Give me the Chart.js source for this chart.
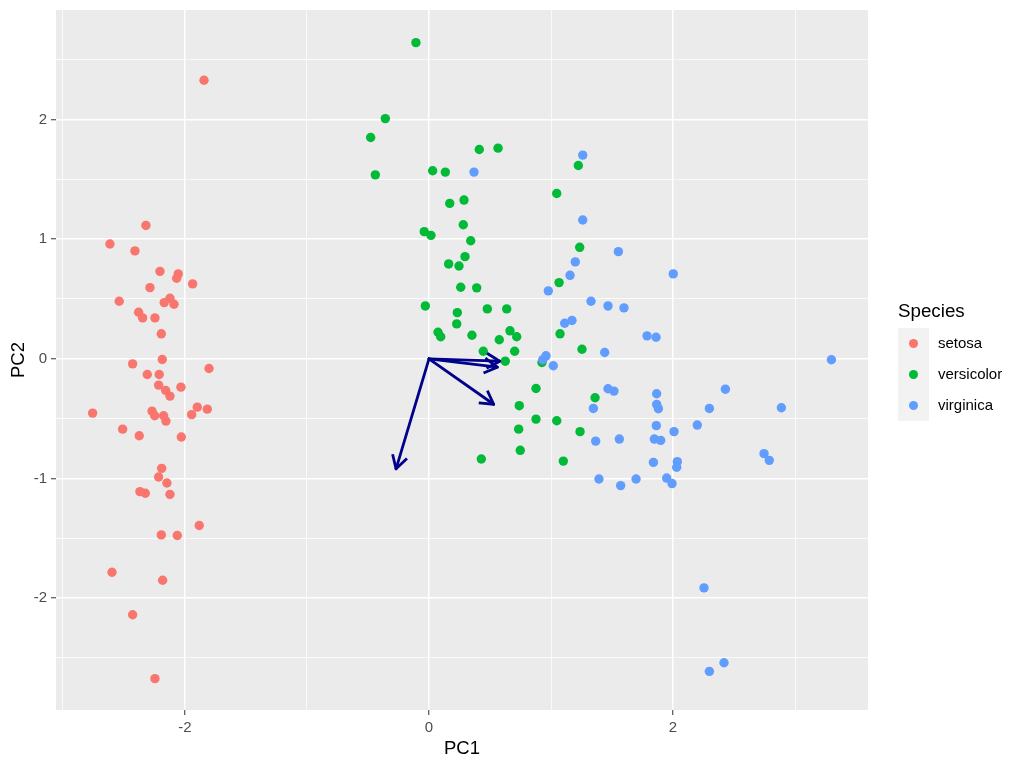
<!DOCTYPE html>
<html>
<head>
<meta charset="utf-8">
<title>PCA biplot</title>
<script src="https://cdn.jsdelivr.net/npm/chart.js@4/dist/chart.umd.min.js"></script>
<style>
  html, body { margin: 0; padding: 0; background: #ffffff; }
  canvas { display: block; }
</style>
</head>
<body>
<canvas id="biplot" width="1024" height="768"></canvas>
<script>
const species = ["setosa", "versicolor", "virginica"];
const speciesColors = ["#F8766D", "#00BA38", "#619CFF"];

// scores
const setosaPC1 = [-1.844, -2.320, -2.615, -2.410, -2.205, -2.055, -2.068, -1.937, -2.287, -2.539, -2.170, -2.123, -2.090, -2.380, -2.347, -2.246, -2.194, -2.186, -2.429, -2.309, -2.211, -1.803, -2.216, -2.158, -2.123, -2.033, -2.757, -2.270, -2.248, -2.175, -2.156, -1.945, -1.899, -1.817, -2.511, -2.375, -2.030, -2.191, -2.216, -2.148, -2.369, -2.325, -2.123, -1.883, -2.194, -2.063, -2.598, -2.183, -2.429, -2.246];
const setosaPC2 = [2.329, 1.115, 0.960, 0.902, 0.731, 0.710, 0.673, 0.626, 0.595, 0.481, 0.470, 0.506, 0.456, 0.389, 0.342, 0.342, 0.209, -0.006, -0.042, -0.131, -0.131, -0.081, -0.220, -0.265, -0.312, -0.237, -0.454, -0.437, -0.476, -0.476, -0.521, -0.467, -0.404, -0.421, -0.588, -0.643, -0.654, -0.916, -0.988, -1.038, -1.110, -1.124, -1.133, -1.394, -1.472, -1.477, -1.784, -1.851, -2.140, -2.674];

const versicolorPC1 = [-0.107, -0.358, -0.478, 0.412, 0.566, -0.440, 0.030, 0.134, 1.224, 1.047, 0.170, 0.287, 0.281, -0.039, 0.016, 0.342, 1.235, 0.295, 0.161, 0.246, 1.066, 0.260, 0.391, -0.030, 0.232, 0.478, 0.637, 0.227, 0.074, 0.096, 0.352, 0.576, 0.664, 0.719, 1.074, 0.445, 0.702, 1.254, 0.625, 0.926, 0.877, 1.361, 0.740, 0.877, 1.047, 0.735, 1.238, 0.748, 0.429, 1.101];
const versicolorPC2 = [2.643, 2.008, 1.850, 1.750, 1.761, 1.538, 1.572, 1.561, 1.616, 1.382, 1.299, 1.327, 1.121, 1.063, 1.032, 0.987, 0.932, 0.854, 0.793, 0.776, 0.637, 0.598, 0.593, 0.442, 0.386, 0.417, 0.417, 0.292, 0.222, 0.184, 0.197, 0.159, 0.234, 0.184, 0.209, 0.063, 0.063, 0.080, -0.020, -0.031, -0.248, -0.326, -0.392, -0.504, -0.518, -0.588, -0.609, -0.765, -0.838, -0.855];

const virginicaPC1 = [0.369, 1.260, 1.260, 1.552, 1.199, 1.156, 0.978, 1.328, 1.467, 1.112, 1.172, 1.440, 0.959, 0.932, 1.019, 1.467, 1.516, 1.347, 1.366, 1.560, 2.002, 1.598, 1.787, 1.861, 3.298, 1.866, 2.429, 1.866, 1.880, 2.298, 2.888, 2.199, 1.863, 2.008, 1.847, 1.899, 2.746, 2.789, 1.839, 2.035, 2.030, 1.393, 1.697, 1.571, 1.948, 1.992, 2.254, 2.418, 2.298];
const virginicaPC2 = [1.561, 1.703, 1.160, 0.896, 0.810, 0.698, 0.568, 0.481, 0.442, 0.297, 0.320, 0.053, 0.025, -0.008, -0.058, -0.250, -0.270, -0.415, -0.688, -0.671, 0.710, 0.426, 0.192, 0.180, -0.008, -0.292, -0.254, -0.381, -0.417, -0.415, -0.409, -0.554, -0.559, -0.609, -0.671, -0.682, -0.793, -0.849, -0.866, -0.860, -0.907, -1.005, -1.005, -1.060, -0.997, -1.043, -1.915, -2.541, -2.613];

// variable loadings (arrows from the origin)
const loadingNames = ["Sepal.Length", "Sepal.Width", "Petal.Length", "Petal.Width"];
const loadingPC1 = [0.53, -0.27, 0.58, 0.56];
const loadingPC2 = [-0.38, -0.92, -0.02, -0.07];

const xTicks = [-3, -2, -1, 0, 1, 2, 3];
const xLabeled = [-2, 0, 2];
const yTicks = [-2.5, -2, -1.5, -1, -0.5, 0, 0.5, 1, 1.5, 2, 2.5];
const yLabeled = [-2, -1, 0, 1, 2];

const FONT = "'Liberation Sans', Arial, sans-serif";
const ARROW = "#00008B";

const toPoints = (xs, ys) => xs.map((x, i) => ({ x: x, y: ys[i] }));

const scoreSets = [
  toPoints(setosaPC1, setosaPC2),
  toPoints(versicolorPC1, versicolorPC2),
  toPoints(virginicaPC1, virginicaPC2),
];

const datasets = species.map((name, i) => ({
  label: name,
  data: scoreSets[i],
  backgroundColor: speciesColors[i],
  borderWidth: 0,
  pointRadius: 4.7,
  order: 3 - i,
}));

loadingNames.forEach((name, i) => {
  datasets.push({
    label: name,
    data: [{ x: 0, y: 0 }, { x: loadingPC1[i], y: loadingPC2[i] }],
    showLine: true,
    borderColor: ARROW,
    borderWidth: 2.8,
    borderCapStyle: "round",
    pointRadius: 0,
    order: 0,
  });
});

// grey panel behind the grid
const panelBg = {
  id: "panelBg",
  beforeDraw(chart) {
    const { ctx, chartArea: a } = chart;
    ctx.save();
    ctx.fillStyle = "#EBEBEB";
    ctx.fillRect(a.left, a.top, a.right - a.left, a.bottom - a.top);
    ctx.restore();
  },
};

// open arrow heads at the loading ends
const arrowHeads = {
  id: "arrowHeads",
  afterDatasetsDraw(chart) {
    const { ctx } = chart;
    const sx = chart.scales.x;
    const sy = chart.scales.y;
    const len = 15;
    ctx.save();
    ctx.strokeStyle = ARROW;
    ctx.lineWidth = 2.8;
    ctx.lineJoin = "round";
    loadingPC1.forEach((lx, i) => {
      const x0 = sx.getPixelForValue(0);
      const y0 = sy.getPixelForValue(0);
      const x1 = sx.getPixelForValue(lx);
      const y1 = sy.getPixelForValue(loadingPC2[i]);
      const a = Math.atan2(y1 - y0, x1 - x0);
      ctx.beginPath();
      ctx.moveTo(x1 - len * Math.cos(a - Math.PI / 6), y1 - len * Math.sin(a - Math.PI / 6));
      ctx.lineTo(x1, y1);
      ctx.lineTo(x1 - len * Math.cos(a + Math.PI / 6), y1 - len * Math.sin(a + Math.PI / 6));
      ctx.stroke();
    });
    ctx.restore();
  },
};

// ggplot style legend on the right
const speciesLegend = {
  id: "speciesLegend",
  afterDraw(chart) {
    const { ctx } = chart;
    const left = 898;
    const keyTop = 328;
    const keySize = 31;
    ctx.save();
    ctx.fillStyle = "#000000";
    ctx.font = "18.75px " + FONT;
    ctx.textBaseline = "alphabetic";
    ctx.textAlign = "left";
    ctx.fillText("Species", left, 317);
    ctx.fillStyle = "#F2F2F2";
    ctx.fillRect(left, keyTop, keySize, keySize * species.length);
    species.forEach((name, i) => {
      const cy = keyTop + keySize * i + keySize / 2;
      ctx.beginPath();
      ctx.arc(left + keySize / 2, cy, 4.5, 0, Math.PI * 2);
      ctx.fillStyle = speciesColors[i];
      ctx.fill();
      ctx.fillStyle = "#000000";
      ctx.font = "15px " + FONT;
      ctx.textBaseline = "middle";
      ctx.fillText(name, 938, cy);
    });
    ctx.restore();
  },
};

const isOn = (list, v) => list.some((t) => Math.abs(t - v) < 1e-9);

new Chart(document.getElementById("biplot"), {
  type: "scatter",
  data: { datasets: datasets },
  options: {
    responsive: false,
    animation: false,
    layout: { padding: { top: 10, right: 156, bottom: 0, left: 0 } },
    plugins: {
      legend: { display: false },
      tooltip: { enabled: false },
    },
    scales: {
      x: {
        type: "linear",
        min: -3.057,
        max: 3.598,
        afterBuildTicks: (s) => { s.ticks = xTicks.map((v) => ({ value: v })); },
        afterFit: (s) => { s.height = 58; s.paddingLeft = 0; s.paddingRight = 0; },
        border: { display: false },
        grid: {
          color: "#FFFFFF",
          lineWidth: (c) => (isOn(xLabeled, c.tick.value) ? 1.5 : 0.75),
          tickColor: (c) => (isOn(xLabeled, c.tick.value) ? "#333333" : "rgba(0,0,0,0)"),
          tickWidth: 1,
          tickLength: 5,
        },
        ticks: {
          color: "#4D4D4D",
          font: { family: FONT, size: 15 },
          padding: 4,
          maxRotation: 0,
          autoSkip: false,
          callback: (v) => (isOn(xLabeled, v) ? String(v) : ""),
        },
        title: {
          display: true,
          text: "PC1",
          color: "#000000",
          font: { family: FONT, size: 18.5 },
          padding: { top: 0, bottom: 8 },
        },
      },
      y: {
        type: "linear",
        min: -2.936,
        max: 2.916,
        afterBuildTicks: (s) => { s.ticks = yTicks.map((v) => ({ value: v })); },
        afterFit: (s) => { s.width = 56; s.paddingTop = 0; s.paddingBottom = 0; },
        border: { display: false },
        grid: {
          color: "#FFFFFF",
          lineWidth: (c) => (isOn(yLabeled, c.tick.value) ? 1.5 : 0.75),
          tickColor: (c) => (isOn(yLabeled, c.tick.value) ? "#333333" : "rgba(0,0,0,0)"),
          tickWidth: 1,
          tickLength: 5,
        },
        ticks: {
          color: "#4D4D4D",
          font: { family: FONT, size: 15 },
          padding: 4,
          autoSkip: false,
          callback: (v) => (isOn(yLabeled, v) ? String(v) : ""),
        },
        title: {
          display: true,
          text: "PC2",
          color: "#000000",
          font: { family: FONT, size: 18.5 },
          padding: { top: 8, bottom: 0 },
        },
      },
    },
  },
  plugins: [panelBg, arrowHeads, speciesLegend],
});
</script>
</body>
</html>
